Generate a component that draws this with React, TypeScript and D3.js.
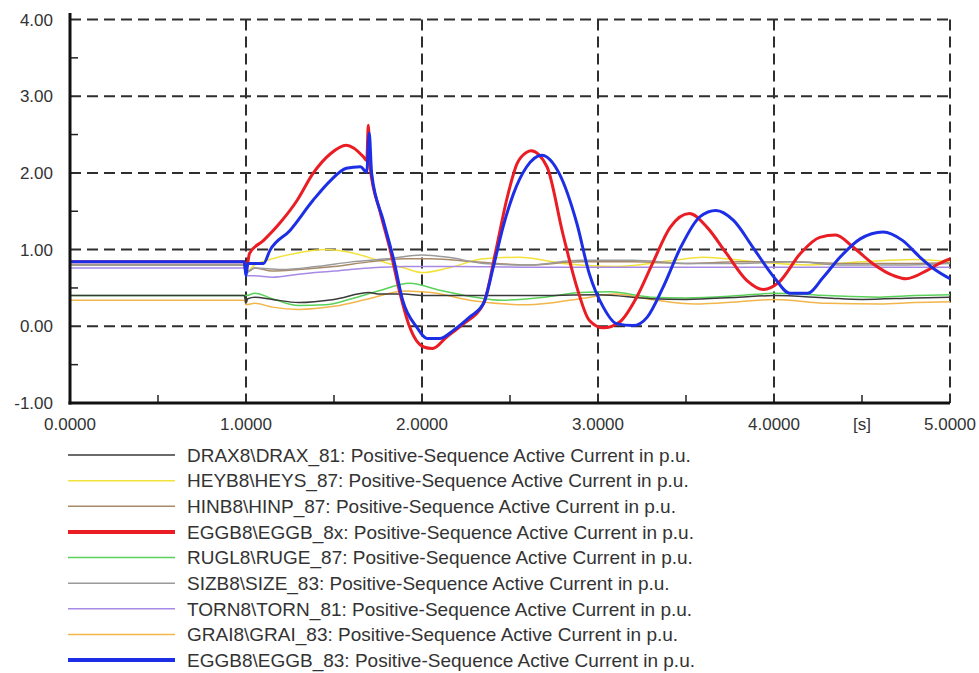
import React from "react";
import * as d3 from "d3";

// ---------- data ----------
const xTicks = [0, 1, 2, 3, 4, 5];
const xTickLabels = ["0.0000", "1.0000", "2.0000", "3.0000", "4.0000", "5.0000"];
const yTicks = [-1, 0, 1, 2, 3, 4];
const yTickLabels = ["-1.00", "0.00", "1.00", "2.00", "3.00", "4.00"];

const draxT = [0, 0.99, 1.0, 1.01, 1.05, 1.15, 1.3, 1.5, 1.7, 1.75, 1.9, 2.0, 2.3, 2.6, 3.0, 3.3, 3.5, 3.8, 4.0, 4.3, 4.5, 4.8, 5.0];
const draxV = [0.40, 0.40, 0.30, 0.36, 0.38, 0.35, 0.31, 0.35, 0.44, 0.42, 0.42, 0.40, 0.40, 0.40, 0.41, 0.36, 0.35, 0.38, 0.40, 0.37, 0.35, 0.37, 0.38];

const heybT = [0, 0.99, 1.0, 1.05, 1.15, 1.3, 1.45, 1.6, 1.75, 1.9, 2.0, 2.15, 2.35, 2.55, 2.8, 3.1, 3.4, 3.6, 3.9, 4.2, 4.5, 4.8, 5.0];
const heybV = [0.80, 0.80, 0.72, 0.80, 0.88, 0.96, 1.00, 0.96, 0.86, 0.76, 0.70, 0.76, 0.88, 0.90, 0.82, 0.78, 0.85, 0.90, 0.84, 0.80, 0.84, 0.87, 0.84];

const hinbT = [0, 0.99, 1.0, 1.05, 1.15, 1.3, 1.5, 1.7, 1.9, 2.05, 2.3, 2.6, 2.9, 3.2, 3.5, 3.8, 4.1, 4.4, 4.7, 5.0];
const hinbV = [0.80, 0.80, 0.70, 0.76, 0.72, 0.74, 0.78, 0.84, 0.88, 0.88, 0.84, 0.80, 0.84, 0.84, 0.82, 0.84, 0.84, 0.82, 0.82, 0.83];

const egg8xT = [0, 0.99, 1.0, 1.02, 1.1, 1.19, 1.29, 1.38, 1.48, 1.57, 1.667, 1.686, 1.695, 1.705, 1.76, 1.82, 1.875, 1.93, 2.01, 2.06, 2.14, 2.235, 2.35, 2.42, 2.48, 2.54, 2.595, 2.62, 2.71, 2.8, 2.88, 2.95, 3.03, 3.125, 3.22, 3.31, 3.41, 3.52, 3.62, 3.73, 3.845, 3.94, 4.03, 4.15, 4.26, 4.35, 4.45, 4.56, 4.68, 4.75, 4.87, 4.94, 5.0];
const egg8xV = [0.84, 0.84, 0.72, 0.95, 1.12, 1.34, 1.64, 1.99, 2.25, 2.36, 2.21, 2.16, 2.62, 2.08, 1.51, 0.99, 0.43, -0.01, -0.27, -0.29, -0.14, 0.03, 0.30, 0.99, 1.64, 2.12, 2.27, 2.29, 2.08, 1.21, 0.51, 0.08, -0.02, 0.06, 0.38, 0.82, 1.29, 1.47, 1.29, 0.95, 0.60, 0.48, 0.58, 0.95, 1.16, 1.19, 1.03, 0.82, 0.66, 0.62, 0.73, 0.82, 0.88];

const ruglT = [0, 0.99, 1.0, 1.05, 1.15, 1.3, 1.45, 1.6, 1.75, 1.93, 2.1, 2.3, 2.45, 2.7, 2.9, 3.07, 3.3, 3.5, 3.8, 4.0, 4.3, 4.6, 4.8, 5.0];
const ruglV = [0.40, 0.40, 0.40, 0.43, 0.36, 0.27, 0.28, 0.36, 0.46, 0.56, 0.47, 0.38, 0.34, 0.38, 0.44, 0.45, 0.38, 0.37, 0.40, 0.43, 0.40, 0.38, 0.40, 0.41];

const sizbT = [0, 0.99, 1.0, 1.05, 1.2, 1.4, 1.6, 1.8, 2.0, 2.15, 2.35, 2.6, 2.9, 3.2, 3.5, 3.8, 4.1, 4.4, 4.7, 5.0];
const sizbV = [0.80, 0.80, 0.70, 0.76, 0.74, 0.78, 0.84, 0.88, 0.93, 0.90, 0.82, 0.80, 0.86, 0.86, 0.82, 0.82, 0.84, 0.80, 0.80, 0.82];

const tornT = [0, 0.99, 1.0, 1.05, 1.15, 1.3, 1.5, 1.7, 1.9, 2.2, 2.6, 3.0, 3.5, 4.0, 4.5, 5.0];
const tornV = [0.76, 0.76, 0.66, 0.66, 0.64, 0.68, 0.72, 0.76, 0.78, 0.78, 0.77, 0.77, 0.77, 0.77, 0.77, 0.77];

const graiT = [0, 0.99, 1.0, 1.05, 1.15, 1.3, 1.5, 1.7, 1.9, 2.05, 2.3, 2.6, 2.9, 3.1, 3.3, 3.55, 3.8, 4.0, 4.3, 4.6, 4.8, 5.0];
const graiV = [0.34, 0.34, 0.28, 0.30, 0.25, 0.22, 0.26, 0.36, 0.46, 0.44, 0.33, 0.28, 0.36, 0.42, 0.35, 0.29, 0.32, 0.35, 0.30, 0.29, 0.31, 0.32];

const egg83T = [0, 0.99, 1.0, 1.01, 1.03, 1.1, 1.136, 1.25, 1.38, 1.48, 1.57, 1.65, 1.686, 1.70, 1.714, 1.78, 1.84, 1.89, 1.97, 2.03, 2.1, 2.18, 2.27, 2.35, 2.405, 2.46, 2.52, 2.595, 2.68, 2.78, 2.88, 2.95, 3.03, 3.105, 3.2, 3.28, 3.37, 3.47, 3.58, 3.67, 3.77, 3.88, 4.0, 4.09, 4.19, 4.28, 4.375, 4.49, 4.62, 4.73, 4.83, 4.92, 5.0];
const egg83V = [0.84, 0.84, 0.66, 0.82, 0.82, 0.82, 0.99, 1.25, 1.64, 1.90, 2.06, 2.08, 2.01, 2.52, 1.99, 1.38, 0.86, 0.34, -0.01, -0.16, -0.16, -0.05, 0.12, 0.30, 0.77, 1.29, 1.73, 2.08, 2.23, 1.99, 1.34, 0.69, 0.25, 0.035, 0.01, 0.12, 0.51, 1.03, 1.43, 1.51, 1.38, 1.03, 0.64, 0.43, 0.43, 0.64, 0.90, 1.14, 1.23, 1.12, 0.90, 0.73, 0.62];

const seriesNames = [
  "DRAX8\\DRAX_81: Positive-Sequence Active Current in p.u.",
  "HEYB8\\HEYS_87: Positive-Sequence Active Current in p.u.",
  "HINB8\\HINP_87: Positive-Sequence Active Current in p.u.",
  "EGGB8\\EGGB_8x: Positive-Sequence Active Current in p.u.",
  "RUGL8\\RUGE_87: Positive-Sequence Active Current in p.u.",
  "SIZB8\\SIZE_83: Positive-Sequence Active Current in p.u.",
  "TORN8\\TORN_81: Positive-Sequence Active Current in p.u.",
  "GRAI8\\GRAI_83: Positive-Sequence Active Current in p.u.",
  "EGGB8\\EGGB_83: Positive-Sequence Active Current in p.u.",
];
const seriesColors = ["#3a3a3a", "#f2e23a", "#a88a6a", "#ea1c24", "#5ad25a", "#9a9a9a", "#a78ae6", "#f2b64a", "#1c2ee6"];
const seriesWidths = [1.5, 1.5, 1.5, 3, 1.5, 1.5, 1.5, 1.5, 3];
const seriesT = [draxT, heybT, hinbT, egg8xT, ruglT, sizbT, tornT, graiT, egg83T];
const seriesV = [draxV, heybV, hinbV, egg8xV, ruglV, sizbV, tornV, graiV, egg83V];
// draw order (thin lines first, then red, then blue on top)
const drawOrder = [7, 4, 0, 1, 2, 5, 6, 3, 8];

// ---------- layout ----------
const W = 979;
const H = 673;
const x = d3.scaleLinear().domain([0, 5]).range([70, 950]);
const y = d3.scaleLinear().domain([-1, 4]).range([403, 19.5]);
const FONT = "'Liberation Sans', Arial, sans-serif";

export default function App() {
  const line = d3
    .line<[number, number]>()
    .x((d) => x(d[0]))
    .y((d) => y(d[1]))
    .curve(d3.curveMonotoneX);

  const minorX = d3.range(0.5, 5, 1);
  const minorY = d3.range(-0.5, 4, 1);
  const legendY = d3.scaleLinear().domain([0, 8]).range([455, 660]);

  return (
    <div style={{ position: "absolute", left: 0, top: 0, width: W, height: H, background: "#fff" }}>
      <svg width={W} height={H} style={{ display: "block" }}>
        <rect width={W} height={H} fill="#fff" />
        {/* grid */}
        {xTicks.slice(1).map((t) => (
          <line key={"gx" + t} x1={x(t)} x2={x(t)} y1={y(4)} y2={y(-1)} stroke="#2e2e2e" strokeWidth={2} strokeDasharray="11,6" />
        ))}
        {yTicks.slice(1).map((t) => (
          <line key={"gy" + t} x1={x(0)} x2={x(5)} y1={y(t)} y2={y(t)} stroke="#2e2e2e" strokeWidth={2} strokeDasharray="11,6" />
        ))}
        {/* minor ticks */}
        {minorX.map((t) => (
          <line key={"mx" + t} x1={x(t)} x2={x(t)} y1={y(-1)} y2={y(-1) - 8} stroke="#222" strokeWidth={1.5} />
        ))}
        {minorY.map((t) => (
          <line key={"my" + t} x1={x(0)} x2={x(0) + 8} y1={y(t)} y2={y(t)} stroke="#222" strokeWidth={1.5} />
        ))}
        {/* series */}
        <g fill="none" strokeLinejoin="round">
          {drawOrder.map((i) => (
            <path
              key={"s" + i}
              d={line(seriesT[i].map((t, k) => [t, seriesV[i][k]] as [number, number])) || ""}
              stroke={seriesColors[i]}
              strokeWidth={seriesWidths[i]}
            />
          ))}
        </g>
        {/* axes */}
        <line x1={x(0)} x2={x(0)} y1={13} y2={y(-1) + 1.5} stroke="#111" strokeWidth={3} />
        <line x1={x(0) - 1.5} x2={x(5)} y1={y(-1)} y2={y(-1)} stroke="#111" strokeWidth={3} />
        {/* y labels */}
        {yTicks.map((t, i) => (
          <text key={"yl" + t} x={53} y={y(t)} dy="0.36em" textAnchor="end" fontFamily={FONT} fontSize={17} fill="#333">
            {yTickLabels[i]}
          </text>
        ))}
        {/* x labels */}
        {xTicks.map((t, i) => (
          <text key={"xl" + t} x={x(t)} y={430} textAnchor="middle" fontFamily={FONT} fontSize={17} fill="#333">
            {xTickLabels[i]}
          </text>
        ))}
        <text x={862} y={430} textAnchor="middle" fontFamily={FONT} fontSize={17} fill="#333">
          [s]
        </text>
        {/* legend */}
        {seriesNames.map((name, i) => (
          <g key={"lg" + i}>
            <line x1={68} x2={175} y1={legendY(i)} y2={legendY(i)} stroke={seriesColors[i]} strokeWidth={seriesWidths[i] === 3 ? 4 : 1.5} />
            <text x={187} y={legendY(i)} dy="0.36em" fontFamily={FONT} fontSize={19} fill="#333">
              {name}
            </text>
          </g>
        ))}
      </svg>
    </div>
  );
}
